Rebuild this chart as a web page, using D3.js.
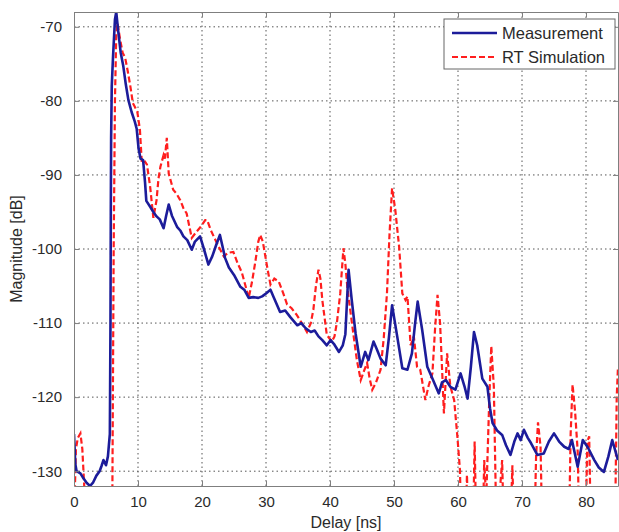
<!DOCTYPE html>
<html>
<head>
<meta charset="utf-8">
<script src="https://cdn.jsdelivr.net/npm/d3@7"></script>
<style>
  body { margin: 0; background: #fff; }
  svg { display: block; font-family: "Liberation Sans", Arial, sans-serif; }
</style>
</head>
<body>
<script>
// tick values
var xTicks = [0, 10, 20, 30, 40, 50, 60, 70, 80];
var yTicks = [-130, -120, -110, -100, -90, -80, -70];

// Measurement (blue, solid)
var measDelay = [0,0.2,0.4,1,1.5,2,2.5,3,3.5,4,4.3,4.6,5,5.3,5.6,5.7,5.75,5.8,5.9,6.1,6.4,6.6,6.9,7.3,7.7,8.1,8.5,9,9.5,9.8,10.1,10.4,10.8,11.1,11.3,11.9,12.4,12.9,13.4,14,14.4,14.8,15.3,16.1,16.6,17.1,17.7,18.4,18.9,19.7,20.3,21,21.6,22.2,22.8,23.3,23.6,24.2,25,26,26.6,27.3,28,28.8,29.4,30,30.7,31.2,32.2,33,33.8,34.9,35.5,36.2,37,37.6,38.2,38.8,39.5,40.1,40.6,41.4,42,42.4,42.9,43.4,44,44.8,45.5,46,46.8,47.3,47.9,48.7,49.2,49.7,50.5,51.3,52.1,52.8,53.3,53.7,54.4,55.2,56,57,57.5,58.1,58.8,59.6,60.4,61,61.5,62,62.5,63,63.8,64.6,65,65.4,66.1,66.9,67.5,68.2,68.8,69.3,69.8,70.3,70.9,71.4,72.4,73.4,74.2,75,75.8,76.6,77.3,77.8,78.7,79.5,80.3,81.3,82,82.8,83.5,84.1,85];
var measMag = [-125,-129,-130,-130.3,-131,-131.6,-132,-131.5,-130.6,-130,-129.3,-128.5,-129.2,-128,-125,-110,-95,-85,-78,-74,-69,-68,-70.5,-73.5,-75.3,-77.8,-79.9,-81.5,-82.8,-83.8,-86.5,-87.8,-88,-91,-93.5,-94.3,-95,-95.6,-96,-97.2,-95.5,-94,-95.5,-97,-97.5,-98.3,-98.8,-100.1,-99,-98.3,-100,-102.1,-101,-99.5,-98.1,-100,-101.2,-102.5,-103.5,-105.1,-105.5,-106.6,-106.5,-106.6,-106.4,-106,-105.5,-106.5,-108.5,-108.3,-109.2,-110.3,-110,-110.7,-111.2,-111,-111.8,-112.3,-113,-112.3,-112.8,-113.9,-113,-111.5,-102.8,-106.9,-111.4,-115.9,-113.9,-115,-112.5,-113.5,-114.8,-115.7,-112,-107.6,-111.8,-116.1,-116.3,-114.1,-110,-107.1,-110.9,-115.9,-117.5,-119.5,-118,-117.7,-118.6,-119,-116.8,-118.5,-120.2,-116,-111.2,-113,-117.5,-118.6,-121.5,-123.5,-124.5,-125.1,-126.5,-127.8,-126,-124.9,-125.8,-124.4,-125.5,-126.2,-127.8,-127.6,-126,-124.9,-126,-126.7,-127,-125.8,-129.4,-125.8,-126.8,-128.5,-129.5,-130.1,-128,-125.8,-128.5];

// RT Simulation (red, dashed); values below the axis floor are clipped
var simDelay = [0,0.15,0.3,0.6,1,1.3,1.6,1.8,5.9,6.0,6.2,6.4,6.6,6.8,7.2,7.6,8.0,8.4,8.8,9.2,9.5,9.9,10.3,10.6,11.1,11.4,11.9,12.4,12.9,13.2,13.5,14,14.2,14.5,14.8,15.5,16,16.6,17.1,17.6,18.4,19.2,19.8,20.5,20.8,21.4,22.1,22.8,23.4,24.1,24.9,25.6,26.2,26.8,27.3,27.8,28.3,28.8,29.1,29.5,29.9,30.3,30.7,31.3,32,32.7,33.3,34,34.8,35.6,36.4,37,37.4,37.8,38.2,38.5,38.8,39.5,40.3,40.7,41.1,41.6,42.1,42.4,42.7,43.2,43.7,44.2,44.8,45.3,45.8,46.2,46.6,47.2,47.9,48.4,48.9,49.3,49.7,50.2,50.8,51.3,51.8,52.1,52.6,53.1,53.6,54.1,54.9,55.4,56,56.4,56.8,57.2,57.5,57.8,58.3,58.8,59.4,59.9,60.3,60.6,61.1,61.4,61.7,62.3,62.6,62.9,63.8,64.1,64.4,64.9,65.2,65.6,65.9,66.3,66.6,66.9,67.2,68.1,68.5,68.8,71.9,72.2,72.5,72.9,73.2,77.3,77.6,77.9,78.3,78.7,79,79.9,80.2,80.5,80.8,84.5,84.8,85];
var simMag = [-140,-132,-127,-125.5,-124.9,-127,-132,-140,-140,-132,-100,-80,-71,-69.5,-71.7,-73.5,-74.2,-76,-78,-80.3,-80.8,-81.5,-83.9,-88.4,-88.2,-88.6,-91.6,-95.8,-93.4,-90.5,-88.9,-87.3,-87.8,-85,-89.8,-92,-92.5,-93.4,-94.5,-95.2,-98.5,-97.6,-97,-96.1,-96.1,-97.5,-98.8,-100,-101,-100.5,-100.4,-102,-103.1,-105,-106.6,-104.5,-101.9,-99,-98.1,-99,-101,-103,-104.8,-104,-104.4,-106,-107.5,-108,-108.9,-110,-111.2,-110,-108.2,-105,-102.8,-104,-106.9,-111.6,-112.5,-111.8,-109.8,-106,-99.9,-102,-105.1,-108.5,-111.8,-115,-117.7,-116.5,-115.4,-117.5,-119,-118,-116.3,-112,-106,-98,-91.8,-94.7,-99.7,-106,-106.9,-106.4,-113,-111.8,-115.9,-116.3,-120.4,-118.5,-116.8,-111,-106.2,-110,-116,-122.2,-114.1,-118.5,-120.4,-125.3,-129.8,-140,-140,-130.5,-140,-140,-126,-140,-140,-128.5,-134,-120,-113.1,-118.6,-133,-140,-132,-128.5,-140,-140,-129.2,-140,-140,-128,-123.4,-126.7,-140,-140,-125,-118.3,-122,-127.3,-140,-140,-126,-125.3,-140,-140,-120,-115.9];

var legendLabels = ["Measurement", "RT Simulation"];

var margin = {top: 12, right: 1, bottom: 46, left: 74},
    width = 619 - margin.left - margin.right,
    height = 532 - margin.top - margin.bottom;

var svg = d3.select("body").append("svg")
    .attr("width", 619)
    .attr("height", 532);

var g = svg.append("g")
    .attr("transform", "translate(" + margin.left + "," + margin.top + ")");

var x = d3.scaleLinear().domain([0, 85]).range([0, width]);
var y = d3.scaleLinear().domain([-132, -68]).range([height, 0]);

// dotted grid
g.append("g").selectAll("line")
    .data(xTicks.filter(function(d) { return d > 0; }))
  .enter().append("line")
    .attr("x1", function(d) { return x(d); })
    .attr("x2", function(d) { return x(d); })
    .attr("y1", 0).attr("y2", height)
    .style("stroke", "#555")
    .style("stroke-width", 1)
    .style("stroke-dasharray", "1.5,3");

g.append("g").selectAll("line")
    .data(yTicks)
  .enter().append("line")
    .attr("x1", 0).attr("x2", width)
    .attr("y1", function(d) { return y(d); })
    .attr("y2", function(d) { return y(d); })
    .style("stroke", "#555")
    .style("stroke-width", 1)
    .style("stroke-dasharray", "1.5,3");

g.append("clipPath").attr("id", "clip")
  .append("rect").attr("width", width).attr("height", height);

var line = d3.line()
    .x(function(d) { return x(d[0]); })
    .y(function(d) { return y(d[1]); });

var meas = d3.zip(measDelay, measMag);
var sim = d3.zip(simDelay, simMag);

var plot = g.append("g").attr("clip-path", "url(#clip)");

plot.append("path")
    .datum(sim)
    .attr("d", line)
    .style("fill", "none")
    .style("stroke", "#ff1e1e")
    .style("stroke-width", 2.2)
    .style("stroke-dasharray", "6,3");

plot.append("path")
    .datum(meas)
    .attr("d", line)
    .style("fill", "none")
    .style("stroke", "#1c1c9a")
    .style("stroke-width", 2.6)
    .style("stroke-linejoin", "round");

// axes, MATLAB style with inward ticks
var axisColor = "#7f7f7f";

var xAxis = g.append("g")
    .attr("transform", "translate(0," + height + ")")
    .call(d3.axisBottom(x).tickValues(xTicks).tickSizeInner(-5).tickSizeOuter(0).tickPadding(10));
var yAxis = g.append("g")
    .call(d3.axisLeft(y).tickValues(yTicks).tickSizeInner(-5).tickSizeOuter(0).tickPadding(12)
      .tickFormat(d3.format("d")));
var xTop = g.append("g")
    .call(d3.axisTop(x).tickValues(xTicks).tickSizeInner(-5).tickSizeOuter(0).tickFormat(""));
var yRight = g.append("g")
    .attr("transform", "translate(" + width + ",0)")
    .call(d3.axisRight(y).tickValues(yTicks).tickSizeInner(-5).tickSizeOuter(0).tickFormat(""));

[xAxis, yAxis, xTop, yRight].forEach(function(a) {
  a.selectAll("path, line").style("stroke", axisColor);
  a.selectAll("text")
    .style("font-size", "15px")
    .style("fill", "#2a2a2a")
    .style("font-family", "'Liberation Sans', Arial, sans-serif");
});
yAxis.selectAll("text").text(function(d) { return d3.format("d")(d).replace("\u2212", "-"); });

// axis titles
svg.append("text")
    .attr("x", margin.left + width / 2)
    .attr("y", 528)
    .attr("text-anchor", "middle")
    .style("font-size", "16px")
    .style("fill", "#2a2a2a")
    .text("Delay [ns]");

svg.append("text")
    .attr("transform", "translate(22," + (margin.top + height / 2) + ") rotate(-90)")
    .attr("text-anchor", "middle")
    .style("font-size", "16px")
    .style("fill", "#2a2a2a")
    .text("Magnitude [dB]");

// legend
var legend = g.append("g")
    .attr("transform", "translate(" + (444 - margin.left) + "," + (19 - margin.top) + ")");

legend.append("rect")
    .attr("width", 171).attr("height", 50)
    .style("fill", "#fff")
    .style("stroke", "#666")
    .style("stroke-width", 1);

var legendColors = ["#1c1c9a", "#ff1e1e"];
var legendDash = [null, "6,3"];

legendLabels.forEach(function(label, i) {
  legend.append("line")
    .attr("x1", 8).attr("x2", 53)
    .attr("y1", 14 + i * 24).attr("y2", 14 + i * 24)
    .style("stroke", legendColors[i])
    .style("stroke-width", i === 0 ? 2.6 : 2.2)
    .style("stroke-dasharray", legendDash[i]);
  legend.append("text")
    .attr("x", 58).attr("y", 20 + i * 24)
    .style("font-size", "16.5px")
    .style("fill", "#2a2a2a")
    .text(label);
});
</script>
</body>
</html>
